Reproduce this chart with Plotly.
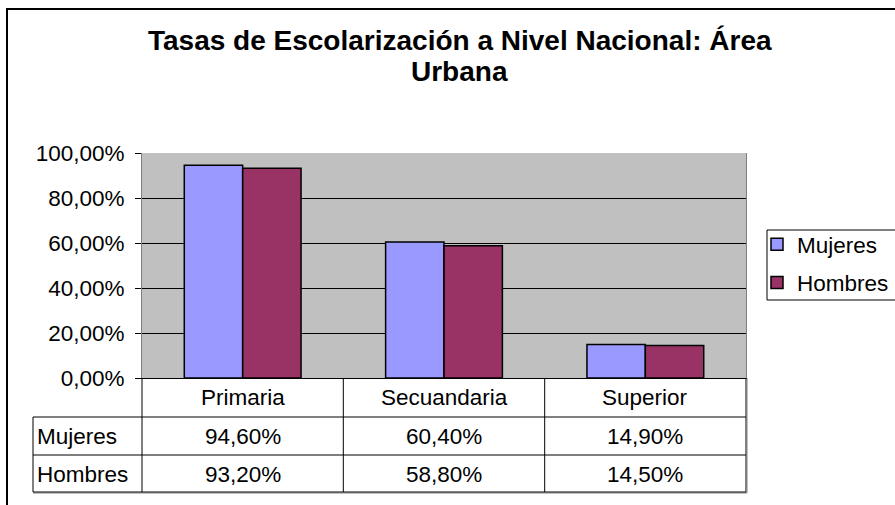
import plotly.graph_objects as go

categories = ["Primaria", "Secuandaria", "Superior"]
series_names = ["Mujeres", "Hombres"]
mujeres = [94.6, 60.4, 14.9]
hombres = [93.2, 58.8, 14.5]
y_ticks = [0, 20, 40, 60, 80, 100]
title_line1 = "Tasas de Escolarización a Nivel Nacional: Área"
title_line2 = "Urbana"

colors = {"Mujeres": "#9999FF", "Hombres": "#993366"}

FONT = "Liberation Sans, Arial, sans-serif"
FS = 22.5

# plot area in pixels
Wfig, Hfig = 895, 505
L, R, T, B = 142, 746, 153, 378
W, H = R - L, B - T


def px(x):
    return (x - L) / W


def py(y):
    return (B - y) / H


def fmt(v):
    return f"{v:.2f}%".replace(".", ",")


fig = go.Figure()
for name, vals in zip(series_names, [mujeres, hombres]):
    fig.add_trace(go.Bar(
        x=categories, y=vals, name=name, legendgroup=name,
        marker=dict(color=colors[name], line=dict(color="black", width=1.5)),
    ))

shapes = []
# outer chart border
shapes.append(dict(type="rect", xref="paper", yref="paper",
                   x0=px(7), x1=px(920), y0=py(530), y1=py(9),
                   line=dict(color="black", width=2), layer="below"))
# legend box
shapes.append(dict(type="rect", xref="paper", yref="paper",
                   x0=px(767), x1=px(905), y0=py(300), y1=py(230),
                   line=dict(color="black", width=1), fillcolor="white", layer="below"))


def hline(y, x0, x1, color="black", w=1):
    shapes.append(dict(type="line", xref="paper", yref="paper",
                       x0=px(x0), x1=px(x1), y0=py(y), y1=py(y),
                       line=dict(color=color, width=w)))


def vline(x, y0, y1, color="black", w=1):
    shapes.append(dict(type="line", xref="paper", yref="paper",
                       x0=px(x), x1=px(x), y0=py(y0), y1=py(y1),
                       line=dict(color=color, width=w)))


# data table grid
col_edges = [142, 343.3, 544.7, 746]
hline(417, 33, 746)
hline(455, 33, 746)
hline(493, 33, 747, color="#808080", w=1)
hline(492, 33, 746)
for x in col_edges:
    vline(x, 378, 492)
vline(747, 378, 493, color="#808080")
vline(33, 417, 492)

annotations = []
# title
annotations.append(dict(text=f"<b>{title_line1}</b>", xref="paper", yref="paper",
                        x=px(459.5), y=py(40), xanchor="center", yanchor="middle",
                        showarrow=False, font=dict(family=FONT, size=28, color="black")))
annotations.append(dict(text=f"<b>{title_line2}</b>", xref="paper", yref="paper",
                        x=px(459.5), y=py(72), xanchor="center", yanchor="middle",
                        showarrow=False, font=dict(family=FONT, size=28, color="black")))

row_centers = [397.5, 436, 474]
for c in categories:
    annotations.append(dict(text=c, xref="x", yref="paper", x=c, y=py(row_centers[0]),
                            xanchor="center", yanchor="middle", showarrow=False,
                            font=dict(family=FONT, size=FS, color="black")))
for r, (name, vals) in enumerate(zip(series_names, [mujeres, hombres])):
    yc = py(row_centers[r + 1])
    annotations.append(dict(text=name, xref="paper", yref="paper", x=px(35), y=yc,
                            xanchor="left", yanchor="middle", showarrow=False,
                            font=dict(family=FONT, size=FS, color="black")))
    for c, v in zip(categories, vals):
        annotations.append(dict(text=fmt(v), xref="x", yref="paper", x=c, y=yc,
                                xanchor="center", yanchor="middle", showarrow=False,
                                font=dict(family=FONT, size=FS, color="black")))

fig.update_layout(
    width=Wfig, height=Hfig,
    margin=dict(l=L, r=Wfig - R, t=T, b=Hfig - B, pad=0, autoexpand=False),
    paper_bgcolor="white", plot_bgcolor="#C0C0C0",
    font=dict(family=FONT, size=FS, color="black"),
    barmode="group", bargap=0.42, bargroupgap=0,
    showlegend=True,
    legend=dict(x=px(757), y=py(223), xanchor="left", yanchor="top",
                bgcolor="rgba(0,0,0,0)", borderwidth=0,
                font=dict(family=FONT, size=FS, color="black"),
                traceorder="grouped", tracegroupgap=6,
                itemclick=False, itemdoubleclick=False),
    shapes=shapes, annotations=annotations,
    xaxis=dict(showticklabels=False, ticks="", showgrid=False,
               showline=True, linecolor="black", linewidth=1, zeroline=False,
               fixedrange=True),
    yaxis=dict(range=[0, 100], tickvals=y_ticks, ticktext=[fmt(v) for v in y_ticks],
               ticks="outside", ticklen=6, tickcolor="black", tickwidth=1,
               ticklabelstandoff=6,
               showgrid=True, gridcolor="black", gridwidth=1,
               showline=True, linecolor="#808080", linewidth=1, mirror=True,
               zeroline=False, fixedrange=True),
)

fig.write_html("out.html", config={"displayModeBar": False},
               post_script="document.body.style.margin='0';document.body.style.overflow='hidden';")
